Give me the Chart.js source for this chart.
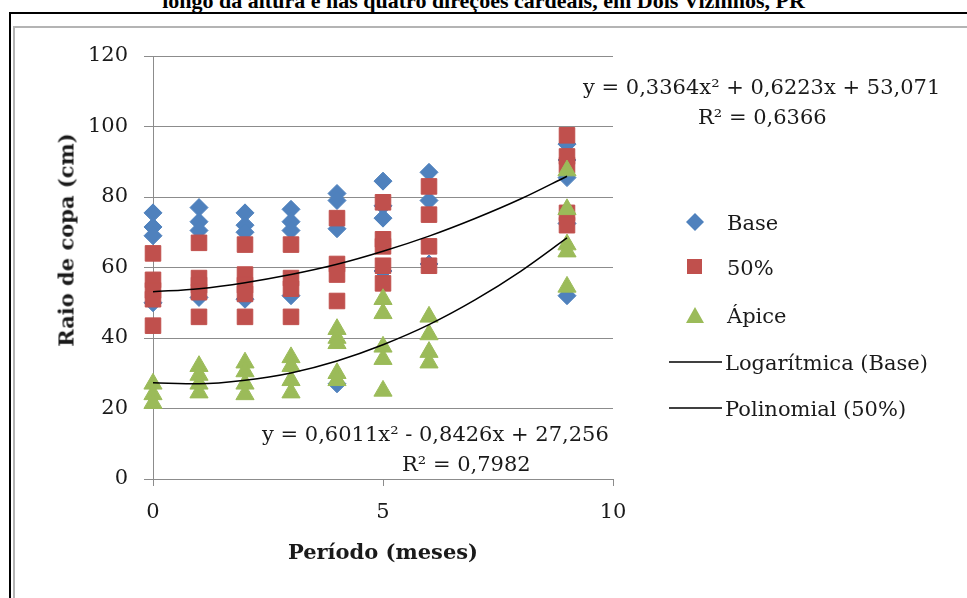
<!DOCTYPE html>
<html lang="pt">
<head>
    <meta charset="UTF-8">
    <title>Raio de copa por período</title>
    <style>
        body {
            margin: 0;
            width: 967px;
            height: 598px;
            overflow: hidden;
            background: #fff;
            position: relative;
            font-family: "DejaVu Serif", serif;
            color: #1a1a1a;
        }
        #title {
            position: absolute;
            left: 0;
            width: 967px;
            top: -10px;
            text-align: center;
            font-family: "Liberation Serif", serif;
            font-weight: bold;
            font-size: 22px;
            line-height: 22px;
            color: #000;
        }
        #outer {
            position: absolute;
            left: 9px;
            top: 12px;
            width: 980px;
            height: 600px;
            border-left: 2px solid #000;
            border-top: 2px solid #000;
        }
        #inner {
            position: absolute;
            left: 13px;
            top: 26px;
            width: 980px;
            height: 600px;
            border-left: 2px solid #b4b4b4;
            border-top: 2px solid #b4b4b4;
        }
        #chart {
            position: absolute;
            left: 0;
            top: 0;
        }
        .txt {
            position: absolute;
            font-size: 21px;
            white-space: nowrap;
            line-height: 24px;
        }
        #ytitle {
            position: absolute;
            left: 66px;
            top: 240px;
            transform: translate(-50%, -50%) rotate(-90deg);
            font-weight: bold;
            font-size: 21px;
            white-space: nowrap;
        }
        #legend {
            position: absolute;
            left: 0;
            top: 0;
        }
    </style>
    <script src="https://cdn.jsdelivr.net/npm/chart.js"></script>
</head>
<body>
    <div id="title">longo da altura e nas quatro direções cardeais, em Dois Vizinhos, PR</div>
    <div id="outer"></div>
    <div id="inner"></div>
    <canvas id="chart" width="967" height="598"></canvas>

    <div id="ytitle">Raio de copa (cm)</div>
    <div class="txt" style="left:583px; top:75px;">y = 0,3364x² + 0,6223x + 53,071</div>
    <div class="txt" style="left:698px; top:105px;">R² = 0,6366</div>
    <div class="txt" style="left:262px; top:422px;">y = 0,6011x² - 0,8426x + 27,256</div>
    <div class="txt" style="left:402px; top:452px;">R² = 0,7982</div>

    <svg id="legend" width="967" height="598">
        <polygon points="695,213 704,222 695,231 686,222" fill="#4F81BD"/>
        <rect x="687" y="259" width="15" height="15" fill="#C0504D"/>
        <polygon points="695,307 704,323 686,323" fill="#9BBB59"/>
        <line x1="669" y1="362" x2="722" y2="362" stroke="#000" stroke-width="1.5"/>
        <line x1="669" y1="408" x2="722" y2="408" stroke="#000" stroke-width="1.5"/>
        <g font-family="DejaVu Serif" font-size="21" fill="#1a1a1a">
            <text x="727" y="230">Base</text>
            <text x="727" y="275">50%</text>
            <text x="727" y="323">Ápice</text>
            <text x="725" y="370">Logarítmica (Base)</text>
            <text x="725" y="416">Polinomial (50%)</text>
        </g>
    </svg>

    <script>
        // meses avaliados
        const periods = [0, 1, 2, 3, 4, 5, 6, 9];

        // raio de copa (cm) por período
        const baseValues = [
            [75.5, 71.5, 69, 50],
            [77, 73, 70.5, 51.5],
            [75.5, 72, 70, 51],
            [76.5, 73, 70.5, 52],
            [81, 79, 71, 27],
            [84.5, 77.5, 74, 59],
            [87, 79, 61],
            [95, 90.5, 85.5, 72.5, 52]
        ];
        const meioValues = [
            [64, 56.5, 53.5, 51, 43.5],
            [67, 57, 55, 53, 46],
            [66.5, 58, 55, 52.5, 46],
            [66.5, 57, 54, 46],
            [74, 61, 58, 50.5],
            [78.5, 68, 66, 60.5, 55.5],
            [83, 75, 66, 60.5],
            [97.5, 91.5, 89, 75.5, 72]
        ];
        const apiceValues = [
            [27, 24, 21.5],
            [32, 29.5, 27, 24.5],
            [33, 30.5, 27, 24],
            [34.5, 32, 28, 24.5],
            [42.5, 40, 38.5, 30, 28],
            [51, 47, 37.5, 34, 25],
            [46, 41, 36, 33],
            [87.5, 76.5, 66.5, 64.5, 54.5]
        ];

        // linhas de tendência
        const trendX = [0, 1, 2, 3, 4, 5, 6, 7, 8, 9];
        const trendUpper = [53.1, 54.0, 55.7, 58.0, 60.9, 64.6, 68.9, 73.9, 79.5, 85.9];
        const trendLower = [27.3, 27.0, 28.0, 30.1, 33.5, 38.1, 43.8, 50.8, 59.0, 68.4];

        const yTicks = [0, 20, 40, 60, 80, 100, 120];
        const xTicks = [0, 5, 10];

        function toPoints(groups) {
            const pts = [];
            groups.forEach((vals, i) => {
                vals.forEach(v => pts.push({ x: periods[i], y: v }));
            });
            return pts;
        }

        function toLine(xs, ys) {
            return xs.map((x, i) => ({ x: x, y: ys[i] }));
        }

        Chart.defaults.font.family = '"DejaVu Serif", serif';
        Chart.defaults.font.size = 21;
        Chart.defaults.color = '#1a1a1a';

        const gridColor = '#8c8c8c';

        new Chart(document.getElementById('chart'), {
            type: 'scatter',
            data: {
                datasets: [
                    {
                        label: 'Polinomial (50%)',
                        type: 'line',
                        data: toLine(trendX, trendUpper),
                        borderColor: '#000',
                        borderWidth: 1.5,
                        pointRadius: 0,
                        cubicInterpolationMode: 'monotone',
                        fill: false,
                        clip: false,
                        order: 0
                    },
                    {
                        label: 'Logarítmica (Base)',
                        type: 'line',
                        data: toLine(trendX, trendLower),
                        borderColor: '#000',
                        borderWidth: 1.5,
                        pointRadius: 0,
                        cubicInterpolationMode: 'monotone',
                        fill: false,
                        clip: false,
                        order: 0
                    },
                    {
                        label: 'Ápice',
                        data: toPoints(apiceValues),
                        pointStyle: 'triangle',
                        pointRadius: 10.5,
                        backgroundColor: '#9BBB59',
                        borderColor: '#9BBB59',
                        borderWidth: 1,
                        clip: false,
                        order: 1
                    },
                    {
                        label: '50%',
                        data: toPoints(meioValues),
                        pointStyle: 'rect',
                        pointRadius: 11,
                        backgroundColor: '#C0504D',
                        borderColor: '#C0504D',
                        borderWidth: 1,
                        clip: false,
                        order: 2
                    },
                    {
                        label: 'Base',
                        data: toPoints(baseValues),
                        pointStyle: 'rectRot',
                        pointRadius: 9,
                        backgroundColor: '#4F81BD',
                        borderColor: '#4F81BD',
                        borderWidth: 1,
                        clip: false,
                        order: 3
                    }
                ]
            },
            options: {
                responsive: false,
                animation: false,
                layout: {
                    padding: { left: 0, right: 354, top: 56, bottom: 0 }
                },
                plugins: {
                    legend: { display: false },
                    tooltip: { enabled: false }
                },
                scales: {
                    x: {
                        type: 'linear',
                        min: 0,
                        max: 10,
                        afterBuildTicks: s => { s.ticks = xTicks.map(v => ({ value: v })); },
                        afterFit: s => { s.height = 119; },
                        grid: {
                            drawOnChartArea: false,
                            drawTicks: true,
                            tickLength: 7,
                            color: gridColor
                        },
                        border: { color: gridColor },
                        ticks: { padding: 14, maxRotation: 0 },
                        title: {
                            display: true,
                            text: 'Período (meses)',
                            font: { weight: 'bold', size: 21 },
                            padding: { top: 0, bottom: 32 }
                        }
                    },
                    y: {
                        type: 'linear',
                        min: 0,
                        max: 120,
                        afterBuildTicks: s => { s.ticks = yTicks.map(v => ({ value: v })); },
                        afterFit: s => { s.width = 153; },
                        grid: {
                            drawTicks: true,
                            tickLength: 9,
                            color: gridColor
                        },
                        border: { color: gridColor },
                        ticks: { padding: 16 }
                    }
                }
            }
        });
    </script>
</body>
</html>
